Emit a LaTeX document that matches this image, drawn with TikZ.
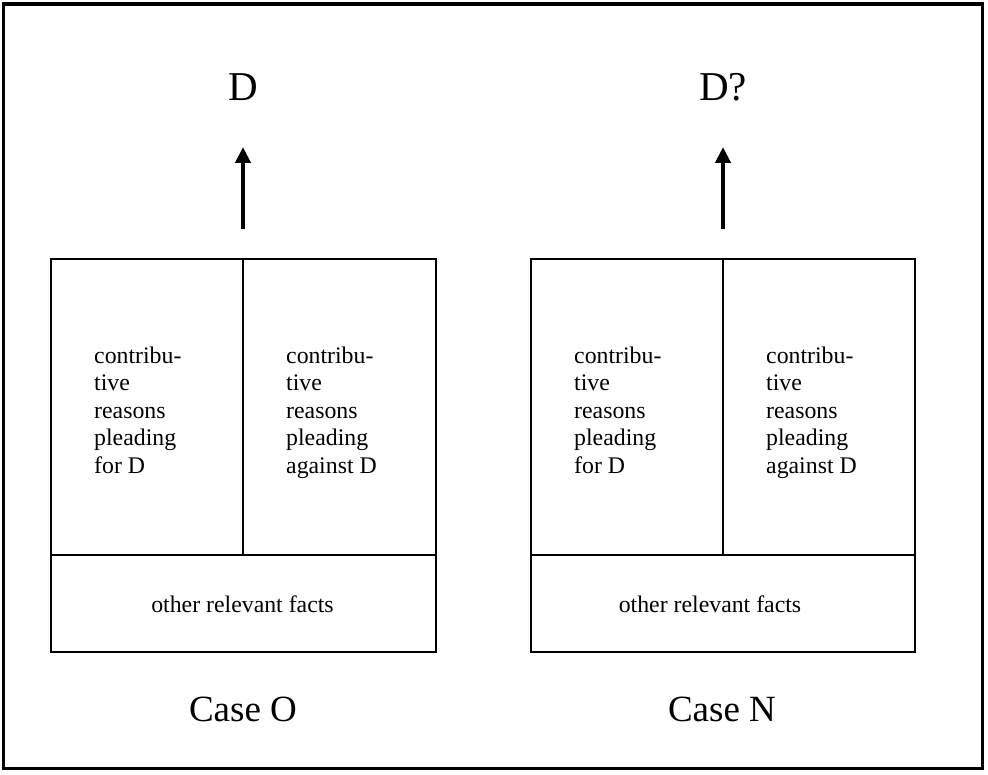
\documentclass[tikz,border=0pt]{standalone}
\usepackage{fontspec}
\setmainfont{Liberation Serif}
\usetikzlibrary{arrows.meta}
\begin{document}
\begin{tikzpicture}[x=1pt,y=-1pt,
  cell/.style={draw, line width=2pt, inner sep=0pt, outer sep=0pt, anchor=north west},
  txt/.style={align=left, inner sep=0pt, anchor=base west, font=\fontsize{23.8}{27.5}\selectfont},
  facts/.style={inner sep=0pt, anchor=base, font=\fontsize{23.8}{27.5}\selectfont},
  big/.style={inner sep=0pt, anchor=base, font=\fontsize{41}{48}\selectfont},
  casetxt/.style={inner sep=0pt, anchor=base, font=\fontsize{37}{44}\selectfont},
  up/.style={line width=4pt, -{Triangle[length=16pt, width=15pt]}}]
\useasboundingbox (0,0) rectangle (988,775);
\draw[line width=3.5pt] (3.5,4) rectangle (982.5,768.5);
% Case O
\node[cell, minimum width=192pt, minimum height=296pt] (ofor) at (51,259) {};
\node[cell, minimum width=193pt, minimum height=296pt] (oagainst) at (243,259) {};
\node[cell, minimum width=385pt, minimum height=97pt] (ofacts) at (51,555) {};
\node[txt] (ofort) at (94,473) {contribu-\\tive\\reasons\\pleading\\for D};
\node[txt] (oagainstt) at (286,473) {contribu-\\tive\\reasons\\pleading\\against D};
\node[facts] (ofactst) at (242.5,612) {other relevant facts};
\node[big] (od) at (243,101) {D};
\coordinate (oa1) at (243,229);
\coordinate (oa2) at (243,147);
\draw[up] (oa1) -- (oa2);
\node[casetxt] (ocase) at (243,721) {Case O};
% Case N
\node[cell, minimum width=192pt, minimum height=296pt] (nfor) at (531,259) {};
\node[cell, minimum width=192pt, minimum height=296pt] (nagainst) at (723,259) {};
\node[cell, minimum width=384pt, minimum height=97pt] (nfacts) at (531,555) {};
\node[txt] (nfort) at (574,473) {contribu-\\tive\\reasons\\pleading\\for D};
\node[txt] (nagainstt) at (766,473) {contribu-\\tive\\reasons\\pleading\\against D};
\node[facts] (nfactst) at (710,612) {other relevant facts};
\node[big] (nd) at (723,101) {D?};
\coordinate (na1) at (723,229);
\coordinate (na2) at (723,147);
\draw[up] (na1) -- (na2);
\node[casetxt] (ncase) at (722,721) {Case N};
\end{tikzpicture}
\end{document}
